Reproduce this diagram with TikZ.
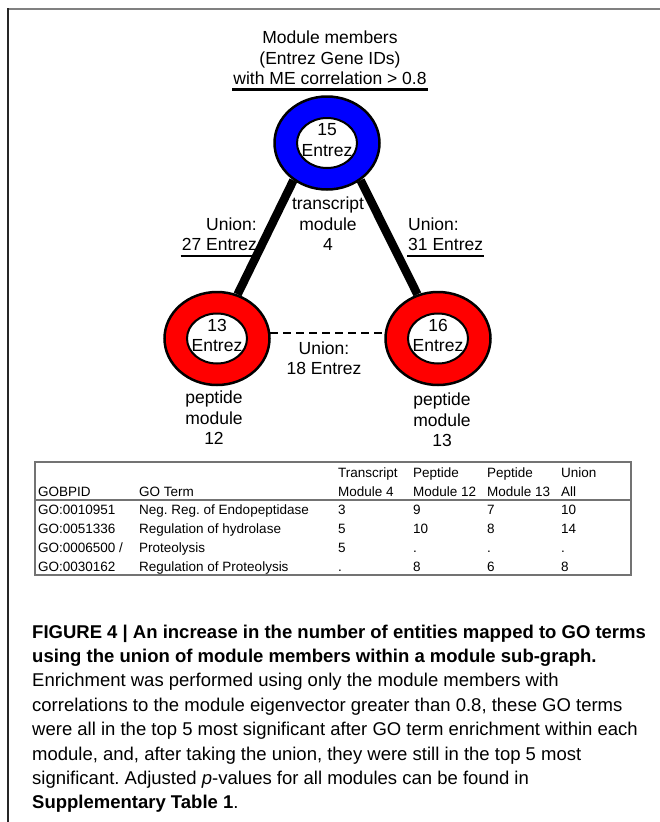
\documentclass[tikz,border=0pt]{standalone}
\usepackage{fontspec}
\setmainfont{Liberation Sans}
\usepackage{tikz}
\usetikzlibrary{shapes.geometric}
\usetikzlibrary{backgrounds}

\newcommand{\diagfont}{\fontsize{17.5}{20.5}\selectfont}
\newcommand{\tabfont}{\fontsize{13.5}{16}\selectfont}
\newcommand{\capfont}{\fontsize{18.5}{24.4}\selectfont}
\frenchspacing

\begin{document}
\begin{tikzpicture}[x=1pt, y=-1pt,
    ring/.style={ellipse, draw, fill=#1, line width=2.5pt,
        minimum width=105pt, minimum height=93pt, inner sep=0pt,
        align=center, text depth=6pt, font=\diagfont,
        path picture={\draw[fill=white, line width=2pt]
            (path picture bounding box.center) ellipse (30pt and 25pt);}},
    lbl/.style={inner sep=1pt, font=\diagfont},
    link/.style={line width=8.5pt},
    weaklink/.style={line width=2pt, dash pattern=on 8pt off 5pt},
    cell/.style={anchor=base west, inner sep=0pt, font=\tabfont},
    tabrule/.style={draw=black!55, line width=1.4pt},
    capline/.style={anchor=base west, inner sep=0pt, font=\capfont}]

    \useasboundingbox (0,0) rectangle (660,822);

    % Frame of the figure panel
    \draw[line width=2.5pt, black!50] (8,9) -- (660,9);
    \draw[line width=2pt, black!85] (8,8) -- (8,822);

    % Header above the transcript module
    \node[lbl, align=center] (hdr) at (330,58)
        {Module members\\(Entrez Gene IDs)\\with ME correlation > 0.8};
    \draw[line width=2.5pt] ([yshift=-3.5pt]hdr.south west) -- ([yshift=-3.5pt]hdr.south east);

    % Modules as rings
    \node[ring=blue] (tm4) at (327,143) {15\\Entrez};
    \node[ring=red] (pm12) at (217,338.5) {13\\Entrez};
    \node[ring=red] (pm13) at (438,338.5) {16\\Entrez};

    % Thick links behind the rings
    \begin{scope}[on background layer]
        \draw[link] (tm4.228) -- (pm12.65);
        \draw[link] (tm4.312) -- (pm13.115);
    \end{scope}
    \draw[weaklink] (pm12.6) -- (pm13.174);

    % Module names
    \node[lbl, align=center] (tm4lbl) at (328,224) {transcript\\module\\4};
    \node[lbl, align=center] (pm12lbl) at (214,418) {peptide\\module\\12};
    \node[lbl, align=center] (pm13lbl) at (442,420) {peptide\\module\\13};

    % Union counts on the links
    \node[lbl, align=right, anchor=east] (u27) at (258,234) {Union:\\27 Entrez};
    \draw[line width=2pt] ([yshift=-4pt]u27.south west) -- ([yshift=-4pt]u27.south east);
    \node[lbl, align=left, anchor=west] (u31) at (407,234) {Union:\\31 Entrez};
    \draw[line width=2pt] ([yshift=-4pt]u31.south west) -- ([yshift=-4pt]u31.south east);
    \node[lbl, align=center] (u18) at (324,358) {Union:\\18 Entrez};

    % GO term table
    \draw[tabrule] (35,462) rectangle (631,575);
    \draw[tabrule] (35,500) -- (631,500);
    \foreach \x/\txt [count=\c from 3] in {338/Transcript, 413/Peptide, 487/Peptide, 561/Union}
        \node[cell] (hda\c) at (\x,477) {\txt};
    \foreach \x/\txt [count=\c] in {38/GOBPID, 139/GO Term, 338/Module 4, 413/Module 12, 487/Module 13, 561/All}
        \node[cell] (hdb\c) at (\x,496) {\txt};
    \foreach \id/\term/\va/\vb/\vc/\vd [count=\r] in {
        GO:0010951/Neg. Reg. of Endopeptidase/3/9/7/10,
        GO:0051336/Regulation of hydrolase/5/10/8/14,
        GO:0006500 \slash/Proteolysis/5/././.,
        GO:0030162/Regulation of Proteolysis/./8/6/8} {
        \node[cell] (go\r) at (38, {514+19*(\r-1)}) {\id};
        \node[cell] (term\r) at (139, {514+19*(\r-1)}) {\term};
        \node[cell] (tm\r) at (338, {514+19*(\r-1)}) {\va};
        \node[cell] (pa\r) at (413, {514+19*(\r-1)}) {\vb};
        \node[cell] (pb\r) at (487, {514+19*(\r-1)}) {\vc};
        \node[cell] (un\r) at (561, {514+19*(\r-1)}) {\vd};
    }

    % Caption
    \foreach \txt [count=\i] in {
        {\textbf{FIGURE 4 | An increase in the number of entities mapped to GO terms}},
        {\textbf{using the union of module members within a module sub-graph.}},
        {Enrichment was performed using only the module members with},
        {correlations to the module eigenvector greater than 0.8, these GO terms},
        {were all in the top 5 most significant after GO term enrichment within each},
        {module, and, after taking the union, they were still in the top 5 most},
        {significant. Adjusted \textit{p}-values for all modules can be found in},
        {\textbf{Supplementary Table 1}.}}
        \node[capline] (cap\i) at (32, {638+24.4*(\i-1)}) {\txt};

\end{tikzpicture}
\end{document}
